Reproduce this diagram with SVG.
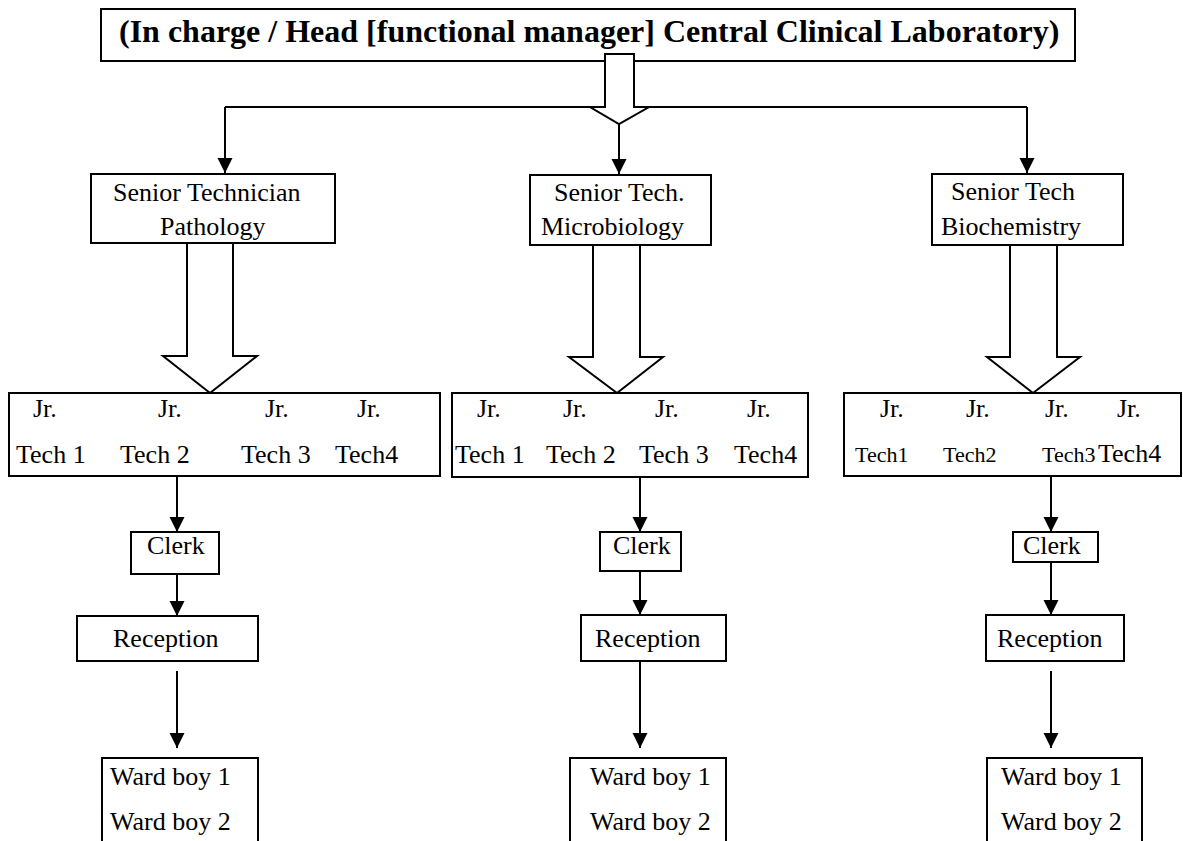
<svg xmlns="http://www.w3.org/2000/svg" width="1183" height="841" viewBox="0 0 1183 841">
  <defs>
    <style>
      .box { fill: #fff; stroke: #000; stroke-width: 2; }
      .hollow { fill: #fff; stroke: #000; stroke-width: 2; stroke-linejoin: miter; }
      .line { fill: none; stroke: #000; stroke-width: 2; }
      .arr { fill: none; stroke: #000; stroke-width: 2; marker-end: url(#head); }
      text { font-family: "Liberation Serif", "Times New Roman", serif; font-size: 26px; fill: #000; }
      .title { font-weight: bold; font-size: 32px; }
      .small { font-size: 22px; }
    </style>
    <marker id="head" markerUnits="userSpaceOnUse" markerWidth="16" markerHeight="16" viewBox="0 0 16 16" refX="15" refY="8" orient="auto">
      <path d="M0,0.5 L15,8 L0,15.5 z" fill="#000"/>
    </marker>
  </defs>

  <rect width="1183" height="841" fill="#fff"/>

  <!-- head of laboratory -->
  <g id="head-node">
    <rect class="box" x="101" y="9" width="974" height="52"/>
    <text class="title" x="119" y="42">(In charge / Head [functional manager] Central Clinical Laboratory)</text>
  </g>

  <!-- connectors -->
  <g id="connectors">
    <!-- distribution bar from the head -->
    <polyline class="line" points="225,107 1027,107"/>
    <polygon class="hollow" points="605,54 634,54 634,107 649,107 619,124 590,107 605,107"/>
    <line class="arr" x1="225" y1="107" x2="225" y2="173"/>
    <line class="arr" x1="619" y1="124" x2="619" y2="174"/>
    <line class="arr" x1="1027" y1="107" x2="1027" y2="173"/>

    <!-- senior technicians to junior technicians -->
    <polygon class="hollow" points="187,243 187,356 163,356 210,393 257,356 233,356 233,243"/>
    <polygon class="hollow" points="593,245 593,357 569,357 617,393 663,357 640,357 640,245"/>
    <polygon class="hollow" points="1010,245 1010,357 987,357 1033,393 1080,357 1057,357 1057,245"/>

    <!-- junior technicians to clerks -->
    <line class="arr" x1="177" y1="476" x2="177" y2="532"/>
    <line class="arr" x1="640" y1="477" x2="640" y2="532"/>
    <line class="arr" x1="1051" y1="476" x2="1051" y2="532"/>

    <!-- clerks to reception -->
    <line class="arr" x1="177" y1="574" x2="177" y2="616"/>
    <line class="arr" x1="640" y1="571" x2="640" y2="615"/>
    <line class="arr" x1="1051" y1="562" x2="1051" y2="615"/>

    <!-- reception to ward boys -->
    <line class="arr" x1="177" y1="671" x2="177" y2="748"/>
    <line class="arr" x1="640" y1="661" x2="640" y2="748"/>
    <line class="arr" x1="1051" y1="671" x2="1051" y2="748"/>
  </g>

  <!-- senior technicians -->
  <g id="senior-pathology">
    <rect class="box" x="91" y="174" width="244" height="69"/>
    <text x="113" y="201">Senior Technician</text>
    <text x="160" y="235">Pathology</text>
  </g>
  <g id="senior-microbiology">
    <rect class="box" x="530" y="175" width="181" height="70"/>
    <text x="554" y="201">Senior Tech.</text>
    <text x="541" y="235">Microbiology</text>
  </g>
  <g id="senior-biochemistry">
    <rect class="box" x="932" y="174" width="191" height="71"/>
    <text x="951" y="200">Senior Tech</text>
    <text x="941" y="235">Biochemistry</text>
  </g>

  <!-- junior technicians -->
  <g id="junior-pathology">
    <rect class="box" x="9" y="393" width="431" height="83"/>
    <text x="33" y="417">Jr.</text>
    <text x="158" y="417">Jr.</text>
    <text x="265" y="417">Jr.</text>
    <text x="357" y="417">Jr.</text>
    <text x="16" y="463">Tech 1</text>
    <text x="120" y="463">Tech 2</text>
    <text x="241" y="463">Tech 3</text>
    <text x="335" y="463">Tech4</text>
  </g>
  <g id="junior-microbiology">
    <rect class="box" x="452" y="393" width="356" height="84"/>
    <text x="477" y="417">Jr.</text>
    <text x="563" y="417">Jr.</text>
    <text x="655" y="417">Jr.</text>
    <text x="747" y="417">Jr.</text>
    <text x="455" y="463">Tech 1</text>
    <text x="546" y="463">Tech 2</text>
    <text x="639" y="463">Tech 3</text>
    <text x="734" y="463">Tech4</text>
  </g>
  <g id="junior-biochemistry">
    <rect class="box" x="844" y="393" width="337" height="83"/>
    <text x="880" y="417">Jr.</text>
    <text x="966" y="417">Jr.</text>
    <text x="1045" y="417">Jr.</text>
    <text x="1117" y="417">Jr.</text>
    <text class="small" x="855" y="462">Tech1</text>
    <text class="small" x="943" y="462">Tech2</text>
    <text class="small" x="1042" y="462">Tech3</text>
    <text x="1098" y="462">Tech4</text>
  </g>

  <!-- clerks -->
  <g id="clerk-pathology">
    <rect class="box" x="131" y="532" width="88" height="42"/>
    <text x="147" y="554">Clerk</text>
  </g>
  <g id="clerk-microbiology">
    <rect class="box" x="600" y="532" width="81" height="39"/>
    <text x="613" y="554">Clerk</text>
  </g>
  <g id="clerk-biochemistry">
    <rect class="box" x="1013" y="532" width="85" height="30"/>
    <text x="1023" y="554">Clerk</text>
  </g>

  <!-- reception -->
  <g id="reception-pathology">
    <rect class="box" x="77" y="616" width="181" height="45"/>
    <text x="113" y="647">Reception</text>
  </g>
  <g id="reception-microbiology">
    <rect class="box" x="581" y="615" width="145" height="46"/>
    <text x="595" y="647">Reception</text>
  </g>
  <g id="reception-biochemistry">
    <rect class="box" x="986" y="615" width="138" height="46"/>
    <text x="997" y="647">Reception</text>
  </g>

  <!-- ward boys -->
  <g id="wardboys-pathology">
    <rect class="box" x="102" y="758" width="156" height="120"/>
    <text x="110" y="785">Ward boy 1</text>
    <text x="110" y="830">Ward boy 2</text>
  </g>
  <g id="wardboys-microbiology">
    <rect class="box" x="570" y="758" width="156" height="120"/>
    <text x="590" y="785">Ward boy 1</text>
    <text x="590" y="830">Ward boy 2</text>
  </g>
  <g id="wardboys-biochemistry">
    <rect class="box" x="987" y="758" width="155" height="120"/>
    <text x="1001" y="785">Ward boy 1</text>
    <text x="1001" y="830">Ward boy 2</text>
  </g>
</svg>
